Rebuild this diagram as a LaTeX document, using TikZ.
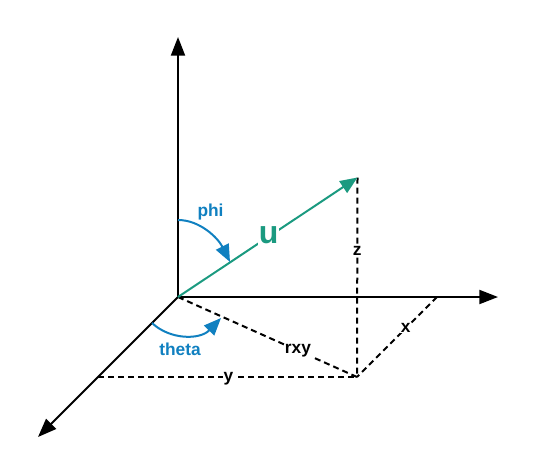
\documentclass[tikz,border=0pt]{standalone}
\usepackage{fontspec}
\setmainfont{Liberation Sans}
\usepackage{tikz}
\usetikzlibrary{arrows.meta}
\definecolor{angleblue}{HTML}{1080C0}
\definecolor{vecgreen}{HTML}{1B9A80}
\tikzset{
	axis/.style = {-{Triangle[length=14pt, width=10.5pt]}, line width = 1.5pt},
	guide/.style = {dash pattern = on 4.5pt off 3pt, line width = 1.5pt},
	vec/.style = {-{Triangle[length=13pt, width=10.5pt]}, line width = 1.5pt, vecgreen},
	anglearc/.style = {-{Triangle[length=13pt, width=10.5pt]}, line width = 1.5pt, angleblue},
	lbl/.style = {font = \bfseries\fontsize{13}{13}\selectfont, fill = white, inner sep = 0.5pt},
	anglelbl/.style = {font = \bfseries\fontsize{13}{13}\selectfont, text = angleblue, inner sep = 0pt}
}
\begin{document}
\begin{tikzpicture}[x=0.75pt, y=-0.75pt]
	\useasboundingbox (0,0) rectangle (538,475);
	
	\coordinate (origin) at (178,297);
	\coordinate (zend) at (178,37);
	\coordinate (xend) at (498,297);
	\coordinate (yend) at (38,437);
	\coordinate (tip) at (357.5,177.5);
	\coordinate (foot) at (357,377);
	\coordinate (xpoint) at (437,297);
	\coordinate (ypoint) at (98,377);
	
	% dashed lines first, the axes lie on top
	\draw [guide] (tip) -- (foot) node [pos=0.37, lbl] (zlabel) {z};
	\draw [guide] (origin) -- (foot) node [pos=0.67, yshift=-0.2pt, lbl] (rxylabel) {rxy};
	\draw [guide] (ypoint) -- (foot) node [pos=0.5, xshift=0.7pt, yshift=-1pt, lbl] (ylabel) {y};
	\draw [guide] (xpoint) -- (foot) node [pos=0.39, lbl] (xlabel) {x};
	
	\draw [axis] (origin) -- (zend);
	\draw [axis] (origin) -- (xend);
	\draw [axis] (origin) -- (yend);
	
	\draw [vec] (origin) -- (tip) node [pos=0.5, xshift=0.7pt, yshift=1.2pt, font=\bfseries\fontsize{24}{24}\selectfont, fill=white, inner sep=0.5pt, text=vecgreen] (ulabel) {u};
	
	\coordinate (phistart) at (178,220);
	\coordinate (phiend) at (230,262);
	\coordinate (thetastart) at (152,323);
	\coordinate (thetaend) at (221,318);
	
	\draw [anglearc] (phistart) .. controls (200,220) and (218,238) .. (phiend);
	\draw [anglearc] (thetastart) .. controls (170,340) and (200,340) .. (thetaend);
	
	\node [anglelbl] (philabel) at (210.5,212) {phi};
	\node [anglelbl] (thetalabel) at (180,349) {theta};
\end{tikzpicture}
\end{document}
